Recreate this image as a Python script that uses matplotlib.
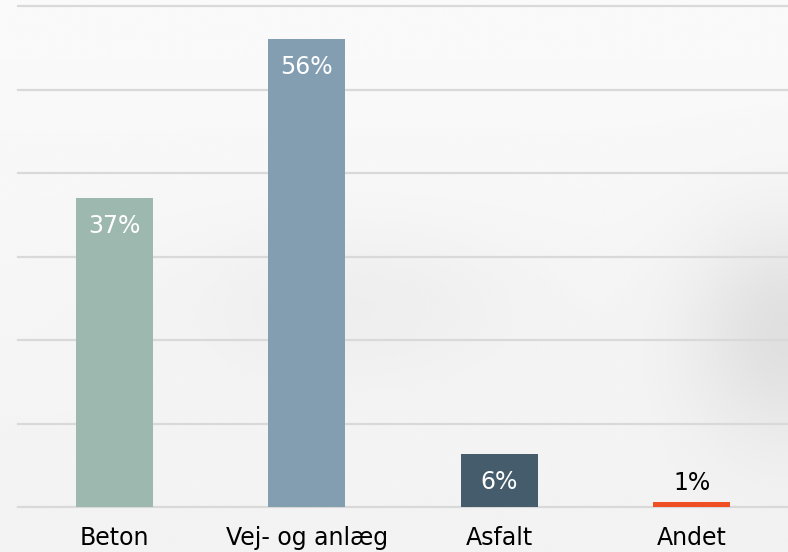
import numpy as np
import matplotlib.pyplot as plt

categories = ["Beton", "Vej- og anlæg", "Asfalt", "Andet"]
values = [37, 56, 6.4, 0.6]
labels = ["37%", "56%", "6%", "1%"]
colors = ["#9db8ae", "#839eb1", "#445c6b", "#f04e23"]


def main():
    fig = plt.figure(figsize=(7.88, 5.52), dpi=100)

    # soft blurred backdrop
    bg = fig.add_axes([0, 0, 1, 1], zorder=-10)
    yy, xx = np.mgrid[0:1:200j, 0:1:280j]
    shade = 0.98 - 0.085 * np.exp(-((xx - 1.0) ** 2 / 0.015 + (yy - 0.6) ** 2 / 0.04))
    shade -= 0.03 * np.exp(-((xx - 0.45) ** 2 / 0.05 + (yy - 0.55) ** 2 / 0.02))
    shade -= 0.03 * yy
    bg.imshow(shade, cmap="gray", vmin=0, vmax=1, aspect="auto", extent=[0, 1, 0, 1],
              origin="upper", interpolation="bicubic")
    bg.axis("off")

    ax = fig.add_axes([18 / 788, 1 - 507 / 552, 770 / 788, 501 / 552])
    ax.patch.set_alpha(0)
    x = np.arange(len(categories))
    ax.bar(x, values, width=0.4, color=colors, zorder=3)

    for i, (v, lab) in enumerate(zip(values, labels)):
        if v > 4:
            ax.annotate(lab, (i, v), xytext=(0, -28), textcoords="offset pixels",
                        ha="center", va="center", color="white", fontsize=17, zorder=4)
        else:
            ax.annotate(lab, (i, v), xytext=(0, 19), textcoords="offset pixels",
                        ha="center", va="center", color="black", fontsize=17, zorder=4)

    ax.set_xlim(-0.5, 3.5)
    ax.set_ylim(0, 60)
    ax.set_yticks(np.arange(0, 61, 10))
    ax.yaxis.grid(True, color="#d9d9d9", linewidth=1.6, zorder=0)
    for gl in ax.get_ygridlines():
        gl.set_clip_on(False)
    ax.set_yticklabels([])
    ax.set_xticks(x)
    ax.set_xticklabels(categories, fontsize=17)
    ax.tick_params(length=0, pad=14)
    for s in ax.spines.values():
        s.set_visible(False)

    fig.savefig("out.png", dpi=100)


if __name__ == "__main__":
    main()
